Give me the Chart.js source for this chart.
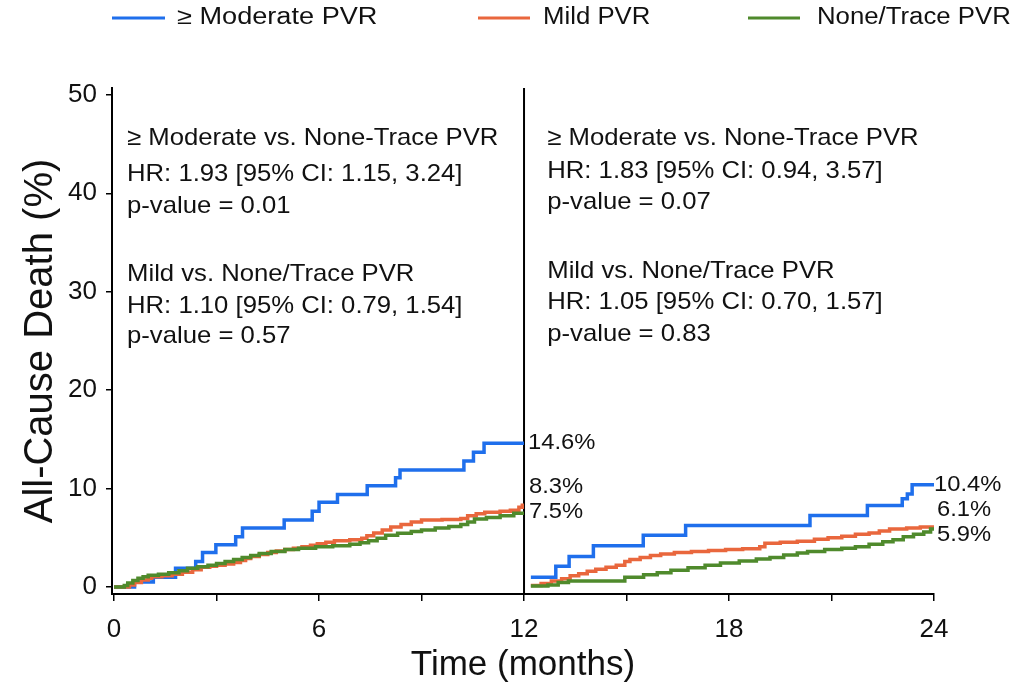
<!DOCTYPE html>
<html>
<head>
<meta charset="utf-8">
<title>All-cause death by PVR grade</title>
<script src="https://cdn.jsdelivr.net/npm/chart.js@4.4.1/dist/chart.umd.min.js"></script>
<style>
  html, body { margin: 0; padding: 0; background: #fff; }
  canvas { display: block; }
</style>
</head>
<body>
<canvas id="kmChart" width="1016" height="690"></canvas>
<script>
// cumulative all-cause death (%) by paravalvular regurgitation grade,
// landmark split at 12 months
var groups = ['\u2265 Moderate PVR', 'Mild PVR', 'None/Trace PVR'];
var colors = ['#1f6fec', '#e9673d', '#4f8a2c'];

// 0-12 months: event times (months) and cumulative incidence (%)
var modTime1 = [0, 0.6, 1.15, 1.8, 2.39, 2.59, 2.98, 3.56, 3.76, 4.98, 5.8, 6.0, 6.54, 7.41, 8.24, 8.37, 10.24, 10.52, 10.83, 12];
var modPct1  = [0, 0.5, 1.0, 1.9, 2.6, 3.5, 4.3, 5.1, 6.0, 6.8, 7.7, 8.6, 9.4, 10.3, 11.1, 11.9, 12.8, 13.7, 14.6, 14.6];

var mildTime1 = [0, 0.45, 0.6, 0.8, 1.0, 1.1, 1.4, 1.7, 2.0, 2.3, 2.55, 2.8, 3.0, 3.25, 3.5, 3.7, 3.85, 4.0, 4.25, 4.5, 4.75, 5.0, 5.25, 5.5, 5.75, 5.95, 6.2, 6.45, 6.9, 7.25, 7.4, 7.6, 7.85, 8.1, 8.4, 8.7, 9.0, 9.6, 10.15, 10.35, 10.6, 10.85, 11.3, 11.6, 11.85, 11.95, 12];
var mildPct1  = [0, 0.2, 0.45, 0.7, 0.9, 1.05, 1.15, 1.3, 1.5, 1.75, 2.0, 2.1, 2.2, 2.35, 2.5, 2.7, 2.9, 3.1, 3.3, 3.5, 3.65, 3.8, 3.95, 4.1, 4.25, 4.4, 4.55, 4.7, 4.8, 4.95, 5.2, 5.5, 5.8, 6.1, 6.35, 6.6, 6.8, 6.85, 6.95, 7.25, 7.45, 7.6, 7.7, 7.8, 8.1, 8.3, 8.3];

var noneTime1 = [0, 0.3, 0.4, 0.55, 0.7, 0.85, 1.0, 1.3, 1.6, 1.9, 2.15, 2.45, 2.75, 3.0, 3.25, 3.5, 3.75, 4.0, 4.25, 4.6, 5.0, 5.4, 5.9, 6.4, 6.9, 7.2, 7.45, 7.7, 7.95, 8.3, 8.7, 9.0, 9.4, 9.8, 10.15, 10.35, 10.55, 10.9, 11.3, 11.7, 12];
var nonePct1  = [0, 0.15, 0.4, 0.65, 0.9, 1.05, 1.2, 1.3, 1.45, 1.65, 1.9, 2.05, 2.2, 2.4, 2.6, 2.8, 3.0, 3.2, 3.4, 3.6, 3.8, 3.95, 4.1, 4.2, 4.35, 4.5, 4.7, 4.95, 5.25, 5.45, 5.65, 5.8, 6.0, 6.15, 6.35, 6.6, 6.9, 7.05, 7.25, 7.5, 7.5];

// 12-24 months (landmark cohort)
var modTime2 = [12.2, 12.93, 13.32, 14.03, 15.49, 16.73, 20.37, 22.05, 23.07, 23.22, 23.36, 24];
var modPct2  = [1.0, 2.1, 3.1, 4.2, 5.25, 6.26, 7.27, 8.28, 8.96, 9.46, 10.4, 10.4];

var mildTime2 = [12.2, 12.5, 12.8, 13.1, 13.35, 13.6, 13.85, 14.1, 14.4, 14.7, 14.95, 15.1, 15.4, 15.7, 16.0, 16.4, 16.9, 17.4, 17.9, 18.4, 18.9, 19.05, 19.5, 20.0, 20.5, 20.9, 21.3, 21.7, 22.1, 22.4, 22.7, 23.2, 23.6, 24];
var mildPct2  = [0.15, 0.35, 0.6, 0.85, 1.15, 1.35, 1.6, 1.8, 2.0, 2.2, 2.6, 2.8, 3.0, 3.2, 3.35, 3.5, 3.6, 3.7, 3.8, 3.9, 4.1, 4.45, 4.55, 4.65, 4.85, 5.0, 5.15, 5.35, 5.5, 5.7, 5.9, 6.0, 6.1, 6.1];

var noneTime2 = [12.2, 12.7, 13.0, 13.3, 14.95, 15.5, 15.9, 16.3, 16.8, 17.3, 17.75, 18.3, 18.8, 19.2, 19.6, 20.0, 20.3, 20.8, 21.3, 21.7, 22.1, 22.5, 22.8, 23.1, 23.4, 23.7, 23.9, 24];
var nonePct2  = [0.1, 0.2, 0.45, 0.6, 1.0, 1.25, 1.45, 1.7, 1.95, 2.2, 2.45, 2.65, 2.85, 3.0, 3.25, 3.45, 3.6, 3.8, 3.95, 4.1, 4.35, 4.6, 4.8, 5.1, 5.35, 5.6, 5.9, 5.9];

var xTicks = [0, 3, 6, 9, 12, 15, 18, 21, 24];
var xLabels = [0, 6, 12, 18, 24];
var yTicks = [0, 10, 20, 30, 40, 50];

var statsEarly = [
  '\u2265 Moderate vs. None-Trace PVR',
  'HR: 1.93 [95% CI: 1.15, 3.24]',
  'p-value = 0.01',
  'Mild vs. None/Trace PVR',
  'HR: 1.10 [95% CI: 0.79, 1.54]',
  'p-value = 0.57'
];
var statsLate = [
  '\u2265 Moderate vs. None-Trace PVR',
  'HR: 1.83 [95% CI: 0.94, 3.57]',
  'p-value = 0.07',
  'Mild vs. None/Trace PVR',
  'HR: 1.05 [95% CI: 0.70, 1.57]',
  'p-value = 0.83'
];

var FONT = '"Liberation Sans", Arial, Helvetica, sans-serif';

function points(t, p) {
  return t.map(function (v, i) { return { x: v, y: p[i] }; });
}

// both landmark periods in one dataset, broken at 12 months
function curve(t1, p1, t2, p2) {
  return points(t1, p1).concat([{ x: 12, y: null }], points(t2, p2));
}

var curves = [
  curve(modTime1, modPct1, modTime2, modPct2),
  curve(mildTime1, mildPct1, mildTime2, mildPct2),
  curve(noneTime1, nonePct1, noneTime2, nonePct2)
];
var finals = [
  [modPct1[modPct1.length - 1], modPct2[modPct2.length - 1]],
  [mildPct1[mildPct1.length - 1], mildPct2[mildPct2.length - 1]],
  [nonePct1[nonePct1.length - 1], nonePct2[nonePct2.length - 1]]
];

function wideText(ctx, text, x, y, size, stretch, baseline) {
  ctx.save();
  ctx.font = size + 'px ' + FONT;
  ctx.fillStyle = '#111';
  ctx.textAlign = 'left';
  ctx.textBaseline = baseline || 'alphabetic';
  ctx.translate(x, y);
  ctx.scale(stretch, 1);
  ctx.fillText(text, 0, 0);
  ctx.restore();
}

var extras = {
  id: 'extras',
  beforeDatasetsDraw: function (chart) {
    var ctx = chart.ctx, area = chart.chartArea;
    var px = chart.scales.x.getPixelForValue(12);
    ctx.save();
    ctx.strokeStyle = '#000';
    ctx.lineWidth = 2;
    ctx.beginPath();
    ctx.moveTo(px, area.top);
    ctx.lineTo(px, area.bottom);
    ctx.stroke();
    ctx.restore();
  },
  afterDraw: function (chart, args, opts) {
    var ctx = chart.ctx;
    var xs = chart.scales.x, ys = chart.scales.y;

    // legend across the top
    chart.data.datasets.forEach(function (ds, i) {
      var l = opts.legendX[i];
      ctx.save();
      ctx.strokeStyle = ds.borderColor;
      ctx.lineWidth = 3;
      ctx.beginPath();
      ctx.moveTo(l[0], opts.legendY);
      ctx.lineTo(l[1], opts.legendY);
      ctx.stroke();
      ctx.restore();
      wideText(ctx, ds.label, l[2], opts.legendY, 23, l[3], 'middle');
    });

    // hazard ratio boxes
    statsEarly.forEach(function (s, i) {
      wideText(ctx, s, xs.getPixelForValue(opts.statsX[0]), ys.getPixelForValue(opts.statsYEarly[i]), 24, 1.07);
    });
    statsLate.forEach(function (s, i) {
      wideText(ctx, s, xs.getPixelForValue(opts.statsX[1]), ys.getPixelForValue(opts.statsYLate[i]), 24, 1.07);
    });

    // values at the end of each period
    finals.forEach(function (f, i) {
      [12, 24].forEach(function (t, k) {
        var x = xs.getPixelForValue(t) + opts.endDx[k][i];
        var y = ys.getPixelForValue(f[k]) + opts.endDy[k][i];
        wideText(ctx, f[k].toFixed(1) + '%', x, y, 22, 1.08, 'middle');
      });
    });
  }
};

var tickFont = { family: FONT, size: 26 };

new Chart(document.getElementById('kmChart'), {
  type: 'line',
  data: {
    datasets: groups.map(function (g, i) {
      return {
        label: g,
        data: curves[i],
        borderColor: colors[i],
        backgroundColor: colors[i],
        borderWidth: 3.5,
        pointRadius: 0,
        stepped: true,
        spanGaps: false,
        fill: false,
        order: 3 - i
      };
    })
  },
  options: {
    responsive: false,
    animation: false,
    devicePixelRatio: 1,
    layout: { padding: { top: 88, right: 82, bottom: 0, left: 0 } },
    plugins: {
      legend: { display: false },
      tooltip: { enabled: false },
      extras: {
        legendY: 18,
        legendX: [[112, 165, 177, 1.18], [478, 530, 543, 1.12], [748, 800, 817, 1.12]],
        statsX: [0.38, 12.68],
        statsYEarly: [44.92, 41.26, 38.01, 31.1, 27.85, 24.8],
        statsYLate: [44.92, 41.57, 38.41, 31.4, 28.25, 25.0],
        endDx: [[4, 5, 5], [0, 3, 3]],
        endDy: [[0, -18, -1], [0, -17, 6]]
      }
    },
    scales: {
      x: {
        type: 'linear',
        min: -0.06,
        max: 24,
        afterFit: function (s) { s.height = 96; },
        afterBuildTicks: function (s) {
          s.ticks = xTicks.map(function (v) { return { value: v }; });
        },
        ticks: {
          autoSkip: false,
          maxRotation: 0,
          color: '#111',
          font: tickFont,
          padding: 13,
          callback: function (v) { return xLabels.indexOf(v) >= 0 ? String(v) : ''; }
        },
        grid: { drawOnChartArea: false, drawTicks: true, tickLength: 7, color: '#000', lineWidth: 1.5 },
        border: { display: true, color: '#000', width: 2 },
        title: {
          display: true,
          text: 'Time (months)',
          color: '#111',
          font: { family: FONT, size: 35 },
          padding: { top: 0, bottom: 4 }
        }
      },
      y: {
        min: -0.71,
        max: 50.7,
        afterFit: function (s) { s.width = 112; },
        afterBuildTicks: function (s) {
          s.ticks = yTicks.map(function (v) { return { value: v }; });
        },
        ticks: { color: '#111', font: tickFont, padding: 9 },
        grid: { drawOnChartArea: false, drawTicks: true, tickLength: 6, color: '#000', lineWidth: 1.5 },
        border: { display: true, color: '#000', width: 2 },
        title: {
          display: true,
          text: 'All-Cause Death (%)',
          color: '#111',
          font: { family: FONT, size: 40 },
          padding: { top: 17, bottom: 0 }
        }
      }
    }
  },
  plugins: [extras]
});
</script>
</body>
</html>
